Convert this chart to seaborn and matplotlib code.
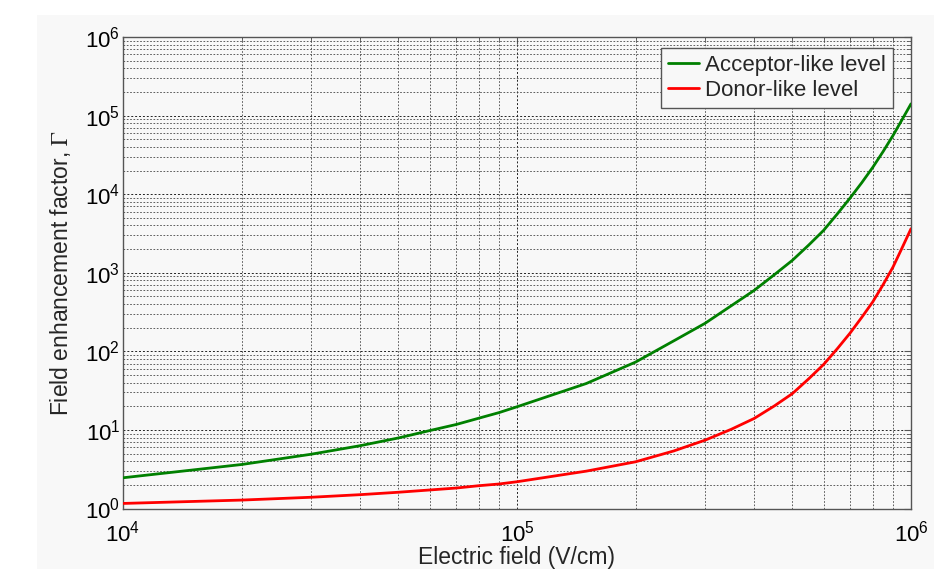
import numpy as np
import pandas as pd
import seaborn as sns
import matplotlib.pyplot as plt
from matplotlib.patches import Rectangle
from matplotlib.ticker import LogLocator, NullFormatter

# values
field = [1e4, 2e4, 3e4, 4e4, 5e4, 6e4, 7e4, 8e4, 9e4, 1e5, 1.5e5, 2e5, 2.5e5,
         3e5, 3.5e5, 4e5, 4.5e5, 5e5, 5.5e5, 6e5, 6.5e5, 7e5, 7.5e5, 8e5, 8.5e5,
         9e5, 9.5e5, 1e6]
acceptor = [2.46, 3.63, 4.9, 6.3, 7.9, 9.8, 11.7, 14.1, 16.6, 19.7, 39, 73, 136,
            227, 381, 597, 945, 1440, 2250, 3460, 5600, 8900, 14000, 22000, 35000,
            55700, 89500, 141000]
donor = [1.16, 1.28, 1.39, 1.5, 1.61, 1.72, 1.82, 1.95, 2.05, 2.19, 2.99, 3.93, 5.4,
         7.4, 10.2, 14, 20.2, 29, 44.7, 68, 108, 170, 271, 427, 708,
         1180, 2090, 3630]
labels = ["Acceptor-like level", "Donor-like level"]
colors = ["#008000", "#ff0000"]

df = pd.DataFrame({
    "field": field * 2,
    "gamma": acceptor + donor,
    "level": [labels[0]] * len(field) + [labels[1]] * len(field),
})

sns.set_style("white")
plt.rcParams["font.family"] = ["Liberation Sans", "DejaVu Sans"]
plt.rcParams["mathtext.fontset"] = "custom"
plt.rcParams["mathtext.rm"] = "Liberation Sans"
plt.rcParams["mathtext.it"] = "Liberation Sans:italic"
plt.rcParams["mathtext.bf"] = "Liberation Sans:bold"

bg = "#f8f8f8"
fig = plt.figure(figsize=(9.34, 5.69), dpi=100, facecolor="white")
fig.patches.append(Rectangle((37 / 934, 0), 1, 1 - 15 / 569, transform=fig.transFigure,
                             facecolor=bg, edgecolor="none", zorder=-10))
ax = fig.add_axes([123 / 934, 1 - 508.5 / 569, (911 - 123) / 934, (508.5 - 37) / 569])
ax.set_facecolor(bg)

sns.lineplot(data=df, x="field", y="gamma", hue="level", palette=colors,
             linewidth=2.0, ax=ax, legend=False, zorder=5)

ax.set_xscale("log")
ax.set_yscale("log")
ax.set_xlim(1e4, 1e6)
ax.set_ylim(1, 1e6)
ax.xaxis.set_major_locator(LogLocator(base=10, numticks=10))
ax.yaxis.set_major_locator(LogLocator(base=10, numticks=10))
ax.xaxis.set_minor_locator(LogLocator(base=10, subs=np.arange(2, 10), numticks=20))
ax.yaxis.set_minor_locator(LogLocator(base=10, subs=np.arange(2, 10), numticks=20))
ax.xaxis.set_minor_formatter(NullFormatter())
ax.yaxis.set_minor_formatter(NullFormatter())

ax.grid(True, which="major", linestyle=(0, (2, 2)), linewidth=0.7, color="#222222")
ax.grid(True, which="minor", linestyle=(0, (2, 2)), linewidth=0.6, color="#444444")

for s in ax.spines.values():
    s.set_color("#555555")
    s.set_linewidth(1.0)

ax.tick_params(which="both", direction="in", top=True, right=True, colors="#555555",
               labelcolor="black", labelsize=16)
ax.tick_params(which="major", length=5, width=0.8)
ax.tick_params(which="minor", length=3, width=0.6)
ax.tick_params(axis="x", pad=9)
ax.tick_params(axis="y", pad=2)

ax.set_xlabel("Electric field (V/cm)", fontsize=16.5, labelpad=-1)
ax.set_ylabel(r"Field enhancement factor, $\Gamma$", fontsize=16.5, labelpad=9,
              math_fontfamily="stix")

handles = [plt.Line2D([], [], color=c, linewidth=2.0) for c in colors]
leg = ax.legend(handles, labels, loc="upper right", bbox_to_anchor=(0.977, 0.977),
                borderaxespad=0, fontsize=16, frameon=True, fancybox=False,
                framealpha=1, facecolor=bg, edgecolor="#555555",
                handlelength=1.4, handletextpad=0.3, borderpad=0.3, labelspacing=0.2)
leg.get_frame().set_linewidth(1.0)
leg.set_zorder(10)

plt.savefig("out.png", dpi=100, facecolor=fig.get_facecolor())
